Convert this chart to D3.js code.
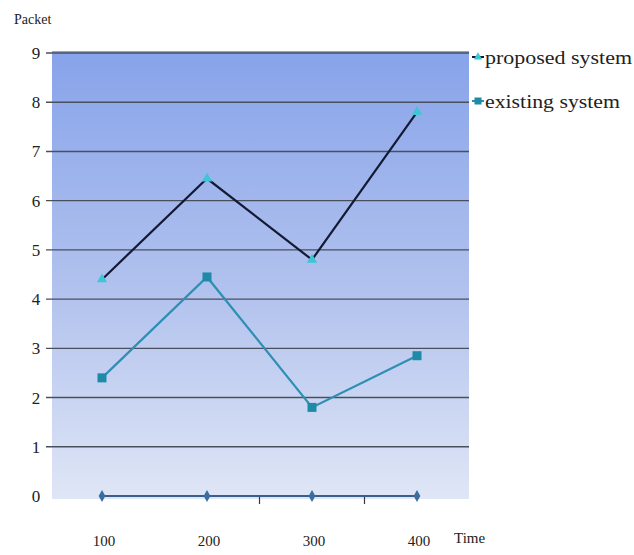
<!DOCTYPE html>
<html>
<head>
<meta charset="utf-8">
<script src="https://cdn.jsdelivr.net/npm/d3@7"></script>
<style>
  html, body { margin: 0; padding: 0; background: #ffffff; }
  svg { display: block; }
  text { font-family: "Liberation Serif", "Times New Roman", serif; fill: #222; }
</style>
</head>
<body>
<svg id="chart" width="634" height="555"></svg>
<script>
// Time steps along the category axis
const categories = ["100", "200", "300", "400"];
// Packets delivered per time step
const proposedValues = [4.4, 6.45, 4.8, 7.8];
const existingValues = [2.4, 4.45, 1.8, 2.85];
const baselineValues = [0, 0, 0, 0];
const yTicks = [0, 1, 2, 3, 4, 5, 6, 7, 8, 9];
const seriesNames = ["proposed system", "existing system"];

const svg = d3.select("#chart");

const plot = { left: 52, right: 469, top: 51, bottom: 499 };

const x = d3.scalePoint()
  .domain(categories)
  .range([102, 417]);

const y = d3.scaleLinear()
  .domain([0, 9])
  .range([496, 53]);

// background gradient of the plot area
const defs = svg.append("defs");
const grad = defs.append("linearGradient")
  .attr("id", "plotFill").attr("x1", 0).attr("y1", 0).attr("x2", 0).attr("y2", 1);
grad.append("stop").attr("offset", "0%").attr("stop-color", "#87a3ea");
grad.append("stop").attr("offset", "55%").attr("stop-color", "#b3c3ee");
grad.append("stop").attr("offset", "100%").attr("stop-color", "#dfe6f6");

svg.append("rect")
  .attr("x", plot.left).attr("y", plot.top)
  .attr("width", plot.right - plot.left).attr("height", plot.bottom - plot.top)
  .attr("fill", "url(#plotFill)");

// horizontal gridlines with short ticks to the left
svg.append("g")
  .selectAll("line")
  .data(yTicks.filter(d => d > 0))
  .join("line")
  .attr("x1", 46).attr("x2", plot.right)
  .attr("y1", d => y(d)).attr("y2", d => y(d))
  .attr("stroke", "#4a4f5e").attr("stroke-width", 1.4);

// y tick labels
svg.append("g")
  .selectAll("text")
  .data(yTicks)
  .join("text")
  .attr("x", 36).attr("y", d => y(d))
  .attr("dy", "0.35em")
  .attr("text-anchor", "middle")
  .attr("font-size", 17)
  .text(d => d);

// y axis title
svg.append("text")
  .attr("x", 14).attr("y", 24)
  .attr("font-size", 14)
  .text("Packet");

// category axis ticks between categories
const between = [0.5, 1.5].map(k => (x(categories[1]) + x(categories[2])) / 2 + (k - 0.5) * x.step());
svg.append("g")
  .selectAll("line")
  .data(between)
  .join("line")
  .attr("x1", d => d).attr("x2", d => d)
  .attr("y1", y(0)).attr("y2", y(0) + 8)
  .attr("stroke", "#3a3a3a").attr("stroke-width", 1.2);

// x tick labels
svg.append("g")
  .selectAll("text")
  .data(categories)
  .join("text")
  .attr("x", d => x(d) + 2).attr("y", 546)
  .attr("text-anchor", "middle")
  .attr("font-size", 15)
  .text(d => d);

svg.append("text")
  .attr("x", 454).attr("y", 543)
  .attr("font-size", 15)
  .text("Time");

const line = d3.line()
  .x((d, i) => x(categories[i]))
  .y(d => y(d));

// baseline series along zero
svg.append("path")
  .datum(baselineValues)
  .attr("d", line)
  .attr("fill", "none")
  .attr("stroke", "#3b5f8c").attr("stroke-width", 2);
svg.append("g")
  .selectAll("path")
  .data(baselineValues)
  .join("path")
  .attr("transform", (d, i) => `translate(${x(categories[i])},${y(d)})`)
  .attr("d", d3.symbol(d3.symbolDiamond, 40))
  .attr("fill", "#3b6ea0");

// proposed system
svg.append("path")
  .datum(proposedValues)
  .attr("d", line)
  .attr("fill", "none")
  .attr("stroke", "#141a33").attr("stroke-width", 2.2);
svg.append("g")
  .selectAll("path")
  .data(proposedValues)
  .join("path")
  .attr("transform", (d, i) => `translate(${x(categories[i])},${y(d)})`)
  .attr("d", d3.symbol(d3.symbolTriangle, 45))
  .attr("fill", "#3cc6d6");

// existing system
svg.append("path")
  .datum(existingValues)
  .attr("d", line)
  .attr("fill", "none")
  .attr("stroke", "#2e8fb3").attr("stroke-width", 2.2);
svg.append("g")
  .selectAll("rect")
  .data(existingValues)
  .join("rect")
  .attr("x", (d, i) => x(categories[i]) - 4.5)
  .attr("y", d => y(d) - 4.5)
  .attr("width", 9).attr("height", 9)
  .attr("fill", "#1f8aa8");

// legend
const legend = svg.append("g");
const legendColors = [
  { line: "#141a33", marker: "#3cc6d6", shape: "tri" },
  { line: "#2e8fb3", marker: "#1f8aa8", shape: "sq" }
];
seriesNames.forEach((name, i) => {
  const ly = 57 + i * 44;
  legend.append("line")
    .attr("x1", 472).attr("x2", 484).attr("y1", ly).attr("y2", ly)
    .attr("stroke", legendColors[i].line).attr("stroke-width", 2);
  if (legendColors[i].shape === "tri") {
    legend.append("path")
      .attr("transform", `translate(478,${ly})`)
      .attr("d", d3.symbol(d3.symbolTriangle, 30))
      .attr("fill", legendColors[i].marker);
  } else {
    legend.append("rect")
      .attr("x", 474.5).attr("y", ly - 3.5).attr("width", 7).attr("height", 7)
      .attr("fill", legendColors[i].marker);
  }
  legend.append("text")
    .attr("x", 485).attr("y", ly)
    .attr("dy", "0.35em")
    .attr("font-size", 19)
    .attr("textLength", i === 0 ? 147 : 135)
    .attr("lengthAdjust", "spacingAndGlyphs")
    .text(name);
});
</script>
</body>
</html>
